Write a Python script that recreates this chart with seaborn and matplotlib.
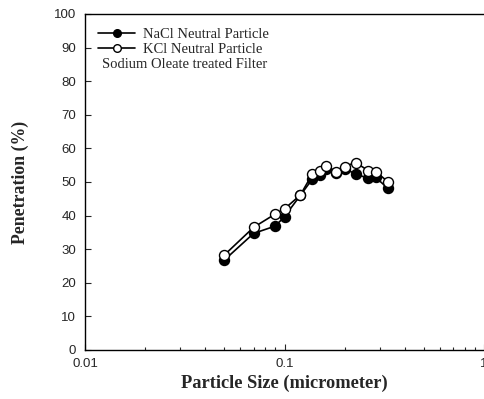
import matplotlib
matplotlib.use("Agg")
import matplotlib.pyplot as plt
import seaborn as sns
import pandas as pd
from matplotlib.lines import Line2D
from matplotlib.ticker import LogLocator, NullFormatter

particle_size = [0.05, 0.07, 0.09, 0.10, 0.12, 0.138, 0.15, 0.161, 0.182, 0.20, 0.227, 0.263, 0.286, 0.33]
nacl = [26.8, 34.7, 36.9, 39.7, 46.0, 50.9, 52.1, 54.0, 52.8, 54.0, 52.4, 51.1, 51.4, 48.1]
kcl = [28.3, 36.5, 40.5, 42.0, 46.1, 52.4, 53.4, 54.8, 53.1, 54.6, 55.8, 53.4, 53.1, 50.1]
series_names = ["NaCl Neutral Particle", "KCl Neutral Particle"]
y_ticks = [0, 10, 20, 30, 40, 50, 60, 70, 80, 90, 100]
x_ticks = [0.01, 0.1, 1]
x_tick_labels = ["0.01", "0.1", "1"]

sns.set_style("white")
plt.rcParams['font.family'] = ['Liberation Sans', 'DejaVu Sans']

fig = plt.figure(figsize=(4.84, 3.99), dpi=100)
ax = fig.add_axes([85/484, 1-350/399, 1-85/484, (350-14)/399])

df_na = pd.DataFrame({"x": particle_size, "y": nacl})
df_k = pd.DataFrame({"x": particle_size, "y": kcl})
sns.lineplot(data=df_na, x="x", y="y", ax=ax, color="black", lw=1.2,
             marker="o", markersize=7.2, markerfacecolor="black",
             markeredgecolor="black", markeredgewidth=1.0, zorder=3)
sns.lineplot(data=df_k, x="x", y="y", ax=ax, color="black", lw=1.2,
             marker="o", markersize=7.2, markerfacecolor="white",
             markeredgecolor="black", markeredgewidth=1.0, zorder=4)

ax.set_xscale("log")
ax.set_xlim(0.01, 1)
ax.set_ylim(0, 100)
ax.set_yticks(y_ticks)
ax.set_xticks(x_ticks)
ax.set_xticklabels(x_tick_labels)
ax.xaxis.set_minor_locator(LogLocator(base=10, subs=range(2, 10)))
ax.xaxis.set_minor_formatter(NullFormatter())

for s in ["left", "bottom", "top"]:
    ax.spines[s].set_visible(True)
    ax.spines[s].set_color("black")
    ax.spines[s].set_linewidth(1.0)
ax.spines["right"].set_visible(False)

ax.tick_params(axis="y", which="major", direction="in", length=4, width=0.8,
               labelsize=9.5, left=True, pad=6.5)
ax.tick_params(axis="x", which="major", direction="in", length=4, width=0.8,
               labelsize=9.5, bottom=True, pad=6)
ax.tick_params(axis="x", which="minor", direction="in", length=2.5, width=0.8, bottom=True)
ax.tick_params(axis="x", which="both", top=False)

serif = ['Liberation Serif', 'DejaVu Serif']
ax.set_xlabel("Particle Size (micrometer)", fontsize=13.2, fontweight="bold", family=serif)
ax.set_ylabel("Penetration (%)", fontsize=12.8, fontweight="bold", family=serif)
ax.xaxis.set_label_coords(0.499, (350-383)/336)
ax.xaxis.label.set_va("center")
ax.yaxis.set_label_coords((20-85)/399, 0.5)
ax.yaxis.label.set_va("center")

handles = [
    Line2D([], [], color="black", lw=1.2, marker="o", markersize=5.5,
           markerfacecolor="black", markeredgecolor="black"),
    Line2D([], [], color="black", lw=1.2, marker="o", markersize=5.5,
           markerfacecolor="white", markeredgecolor="black"),
]
leg = ax.legend(handles, series_names, loc="upper left", bbox_to_anchor=(0.033, 0.958),
                frameon=False, prop={"family": serif, "size": 10.5}, handlelength=2.55,
                handletextpad=0.55, labelspacing=0.12, borderaxespad=0, borderpad=0)
ax.text((102-85)/399, 1-(64-14)/336, "Sodium Oleate treated Filter", transform=ax.transAxes,
        family=serif, fontsize=10.5, va="center", ha="left")

fig.savefig("out.png", dpi=100)
